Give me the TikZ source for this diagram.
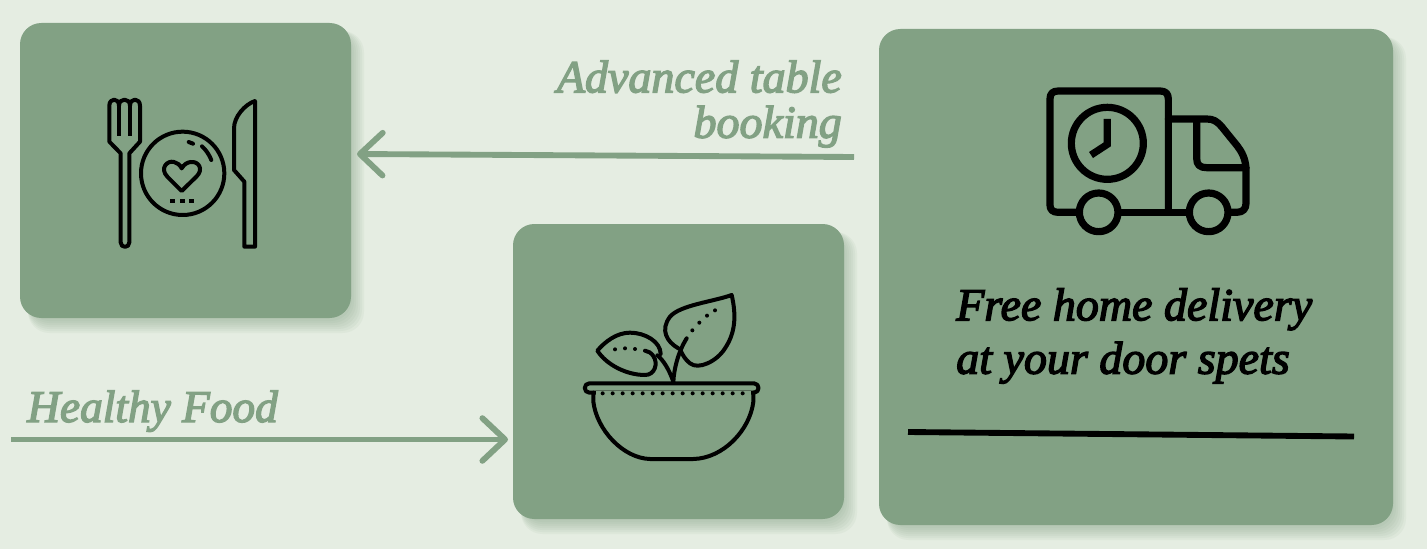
\documentclass[tikz,border=0pt]{standalone}
\usepackage{fontspec}
\newfontfamily\brush{Liberation Serif}[ItalicFeatures={FakeBold=3}]
\usetikzlibrary{arrows.meta,calc}
\definecolor{bgc}{HTML}{E5EDE2}
\definecolor{boxc}{HTML}{82A184}
\tikzset{
  x=0.75pt,y=-0.75pt,
  panel/.style={fill=boxc,draw=none,rounded corners=16pt,inner sep=0pt,outer sep=0pt},
  icon/.style={draw=black,line width=3pt,line cap=round,line join=round},
  bigicon/.style={draw=black,line width=5.4pt,line cap=round,line join=round},
  zoomed/.style={x=0.25pt,y=-0.25pt},
  tagline/.style={font=\brush\itshape\fontsize{34}{34}\selectfont,text=boxc,inner sep=0pt},
  pitch/.style={font=\brush\itshape\fontsize{34.5}{40}\selectfont,text=black,inner sep=0pt,align=left},
  pointer/.style={draw=boxc,line width=4.4pt,-{Straight Barb[length=17pt,width=32pt,line cap=round,round]}},
}
\newcommand{\softshadow}[4]{% x1,y1,x2,y2
  \foreach \g in {12,10,8,6,4,2,0}{
    \fill[boxc,opacity=0.08,rounded corners=16pt]
      ({#1+8},{#2+8}) rectangle ({#3+1+\g},{#4+3+\g});
  }
}
\begin{document}
\begin{tikzpicture}
\useasboundingbox (0,0) rectangle (1427,549);
\fill[bgc] (0,0) rectangle (1427,549);

\softshadow{20}{23}{351}{318}
\softshadow{513}{224}{844}{519}
\softshadow{879}{29}{1393}{525}

\node[panel,minimum width=248.25pt,minimum height=221.25pt] (tablebox) at (185.5,170.5) {};
\node[panel,minimum width=248.25pt,minimum height=221.25pt] (foodbox) at (678.5,371.5) {};
\node[panel,minimum width=385.5pt,minimum height=372pt] (deliverybox) at (1136,277) {};

% plate icon
\begin{scope}[shift={(90,85)},zoomed]
  \draw[icon] (58,62) .. controls (58,38) and (87,38) .. (87,62)
    .. controls (87,38) and (120,38) .. (120,62)
    .. controls (120,38) and (150,38) .. (150,62)
    -- (150,170) -- (118,205) -- (118,472)
    .. controls (118,490) and (92,490) .. (92,472) -- (92,205) -- (58,170) -- cycle;
  \draw[icon,line cap=butt] (87,62) -- (87,152) (120,62) -- (120,152);
  \draw[icon] (278,265) circle[radius=125];
  \draw[icon] (296,171) -- (309,176);
  \draw[icon] (336,184) .. controls (348,195) and (357,208) .. (364,225);
  \draw[icon] (275,318) -- (232,275) .. controls (208,250) and (232,225) .. (252,231)
    .. controls (262,233) and (270,240) .. (275,250)
    .. controls (282,238) and (292,232) .. (302,231)
    .. controls (325,228) and (342,252) .. (320,274) -- cycle;
  \foreach \dx in {247,277,305}{\fill (\dx-7,342) rectangle (\dx+7,355);}
  \draw[icon] (495,48) -- (495,485) -- (463,485) -- (463,290) -- (432,255) -- (432,130)
    .. controls (432,95) and (465,58) .. (495,48) -- cycle;
\end{scope}

% bowl icon
\begin{scope}[shift={(570,280)},zoomed]
  \draw[icon] (58,310) -- (552,310) .. controls (570,310) and (570,338) .. (552,338) -- (70,338)
    -- (58,338) .. controls (40,338) and (40,310) .. (58,310) -- cycle;
  \fill[boxc] (78,332) rectangle (542,344);
  \draw[icon] (70,338) -- (70,365) .. controls (80,450) and (160,535) .. (240,537) -- (370,537)
    .. controls (460,535) and (540,450) .. (550,365) -- (550,338);
  \foreach \i in {0,...,14}{\fill ({98+30*\i},340) circle[radius=6];}
  % right leaf
  \draw[icon] (325,205) .. controls (290,185) and (270,150) .. (300,110)
    .. controls (330,75) and (430,65) .. (485,45)
    .. controls (500,110) and (495,160) .. (465,205)
    .. controls (440,245) and (385,270) .. (360,250)
    .. controls (345,238) and (338,225) .. (332,212);
  \draw[icon] (310,305) .. controls (312,265) and (325,215) .. (350,175);
  \foreach \p in {(367,151),(388,128),(411,107),(435,91)}{\fill \p circle[radius=6];}
  % left leaf
  \draw[icon] (272,222) .. controls (272,185) and (225,158) .. (180,158)
    .. controls (140,158) and (105,185) .. (82,212)
    .. controls (110,255) and (170,285) .. (225,285)
    .. controls (255,285) and (265,250) .. (250,228)
    .. controls (243,218) and (235,214) .. (225,212);
  \draw[icon] (310,305) .. controls (298,270) and (280,240) .. (262,226);
  \foreach \p in {(135,208),(165,205),(195,207)}{\fill \p circle[radius=6];}
\end{scope}

% truck icon
\begin{scope}[shift={(1030,75)},zoomed]
  \draw[bigicon] (140,412) -- (85,412) .. controls (68,412) and (60,404) .. (60,390) -- (60,72)
    .. controls (60,56) and (68,48) .. (85,48) -- (390,48)
    .. controls (407,48) and (415,56) .. (415,72) -- (415,412);
  \draw[bigicon] (270,412) -- (470,412);
  \draw[bigicon] (600,412) -- (620,412) .. controls (640,412) and (648,400) .. (648,385) -- (648,280)
    .. controls (646,250) and (635,230) .. (622,213) -- (575,155)
    .. controls (560,138) and (550,132) .. (530,132) -- (415,132);
  \draw[bigicon] (500,135) -- (500,250) .. controls (500,270) and (510,278) .. (530,278) -- (648,278);
  \draw[bigicon] (206,412) circle[radius=58];
  \draw[bigicon] (536,412) circle[radius=58];
  \draw[bigicon] (232,205) circle[radius=108];
  \draw[bigicon,line cap=butt,line join=miter] (232,132) -- (232,208) -- (183,240);
\end{scope}

% rule in delivery panel
\coordinate (ruleA) at (908,432);
\coordinate (ruleB) at (1354,436.5);
\draw[black,line width=4.4pt] (ruleA) -- (ruleB);

% connectors
\coordinate (startA) at (854,157);
\coordinate (headA) at ($(tablebox.east)+(6,-16.5)$);
\draw[pointer] (startA) -- (headA);
\coordinate (startB) at (11,439.5);
\coordinate (headB) at ($(foodbox.west)+(-5,68)$);
\draw[pointer] (startB) -- (headB);

% labels
\node[tagline,anchor=east,align=right,font=\brush\itshape\fontsize{34.5}{34}\selectfont] (booking) at (842,104) {Advanced table\\booking};
\node[tagline,anchor=base west] (healthy) at (27,422) {Healthy Food};
\node[pitch,anchor=west] (pitchtext) at (956,336) {Free home delivery\\at your door spets};
\end{tikzpicture}
\end{document}
